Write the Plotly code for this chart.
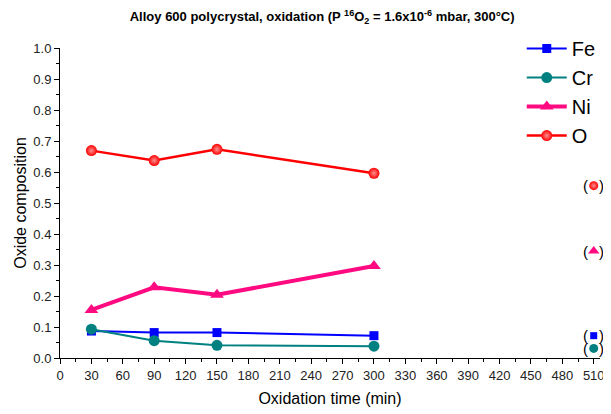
import plotly.graph_objects as go

# oxidation times (min)
times = [30, 90, 150, 300]

fe = [0.087, 0.082, 0.082, 0.072]
cr = [0.093, 0.056, 0.041, 0.038]
ni = [0.155, 0.228, 0.204, 0.297]
o = [0.669, 0.637, 0.673, 0.596]

# bracketed values shown at the right edge
extra_time = 510
extra_fe = 0.072
extra_cr = 0.031
extra_ni = 0.345
extra_o = 0.556

x_ticks = list(range(0, 511, 30))

FONT = "Liberation Sans, Arial, sans-serif"

series = [
    ("Fe", fe, extra_fe, "#0000ff", "square", 9, 2),
    ("Cr", cr, extra_cr, "#008080", "circle", 11, 2),
    ("Ni", ni, extra_ni, "#ff0a80", "triangle-up", 12, 4),
    ("O", o, extra_o, "#ff0000", "circle", 11, 2.5),
]


def create_chart():
    fig = go.Figure()

    for name, vals, extra, color, symbol, size, width in series:
        marker = dict(color=color, symbol=symbol, size=size, line=dict(width=0))
        if name == "O":
            marker["gradient"] = dict(type="radial", color="#ff9090")
        fig.add_trace(go.Scatter(
            x=times,
            y=vals,
            mode="lines+markers",
            name=name,
            line=dict(color=color, width=width),
            marker=marker,
        ))

    for name, vals, extra, color, symbol, size, width in series:
        marker = dict(color=color, symbol=symbol, size=size - 2, line=dict(width=0))
        if name == "O":
            marker["gradient"] = dict(type="radial", color="#ff9090")
        fig.add_trace(go.Scatter(
            x=[extra_time],
            y=[extra],
            mode="markers",
            marker=marker,
            showlegend=False,
            cliponaxis=False,
        ))
        # parentheses around the right-edge points
        for txt, shift in (("(", -8), (")", 8)):
            fig.add_annotation(
                x=extra_time, y=extra, text=txt, showarrow=False,
                xshift=shift, font=dict(size=15, family=FONT, color="black"),
            )

    # page body adds an 8px margin, so the figure is 8px smaller each way
    fig.update_layout(
        width=603,
        height=406,
        title=dict(
            text="<b>Alloy 600 polycrystal, oxidation (P <sup>16</sup>O<sub>2</sub> = 1.6x10<sup>-6</sup> mbar, 300°C)</b>",
            x=0.521,
            xanchor="center",
            y=0.978,
            yanchor="middle",
            font=dict(size=13, family=FONT, color="black"),
        ),
        xaxis=dict(
            title=dict(text="Oxidation time (min)", font=dict(size=16, family=FONT, color="black"), standoff=11),
            automargin=False,
            range=[0, 516],
            tickvals=x_ticks,
            ticks="outside",
            ticklen=5,
            tickcolor="black",
            showline=True,
            linecolor="black",
            linewidth=1,
            showgrid=False,
            zeroline=False,
            minor=dict(dtick=15, tick0=0, ticks="outside", ticklen=3, tickcolor="black"),
            tickfont=dict(size=13, family=FONT, color="#222222"),
        ),
        yaxis=dict(
            title=dict(text="Oxide composition", font=dict(size=16, family=FONT, color="black"), standoff=2),
            automargin=False,
            range=[0, 1.0],
            dtick=0.1,
            tickformat=".1f",
            ticks="outside",
            ticklen=5,
            tickcolor="black",
            showline=True,
            linecolor="black",
            linewidth=1,
            showgrid=False,
            zeroline=False,
            minor=dict(dtick=0.05, ticks="outside", ticklen=3, tickcolor="black"),
            tickfont=dict(size=13, family=FONT, color="#222222"),
        ),
        legend=dict(
            xref="container",
            yref="container",
            x=0.852,
            y=0.948,
            xanchor="left",
            yanchor="top",
            font=dict(size=20, family=FONT, color="black"),
            bgcolor="rgba(0,0,0,0)",
            tracegroupgap=0,
            itemwidth=40,
        ),
        plot_bgcolor="white",
        paper_bgcolor="white",
        margin=dict(l=52, r=11, t=40, b=56, autoexpand=False),
        showlegend=True,
    )
    return fig


fig = create_chart()
fig.write_html("out.html")
